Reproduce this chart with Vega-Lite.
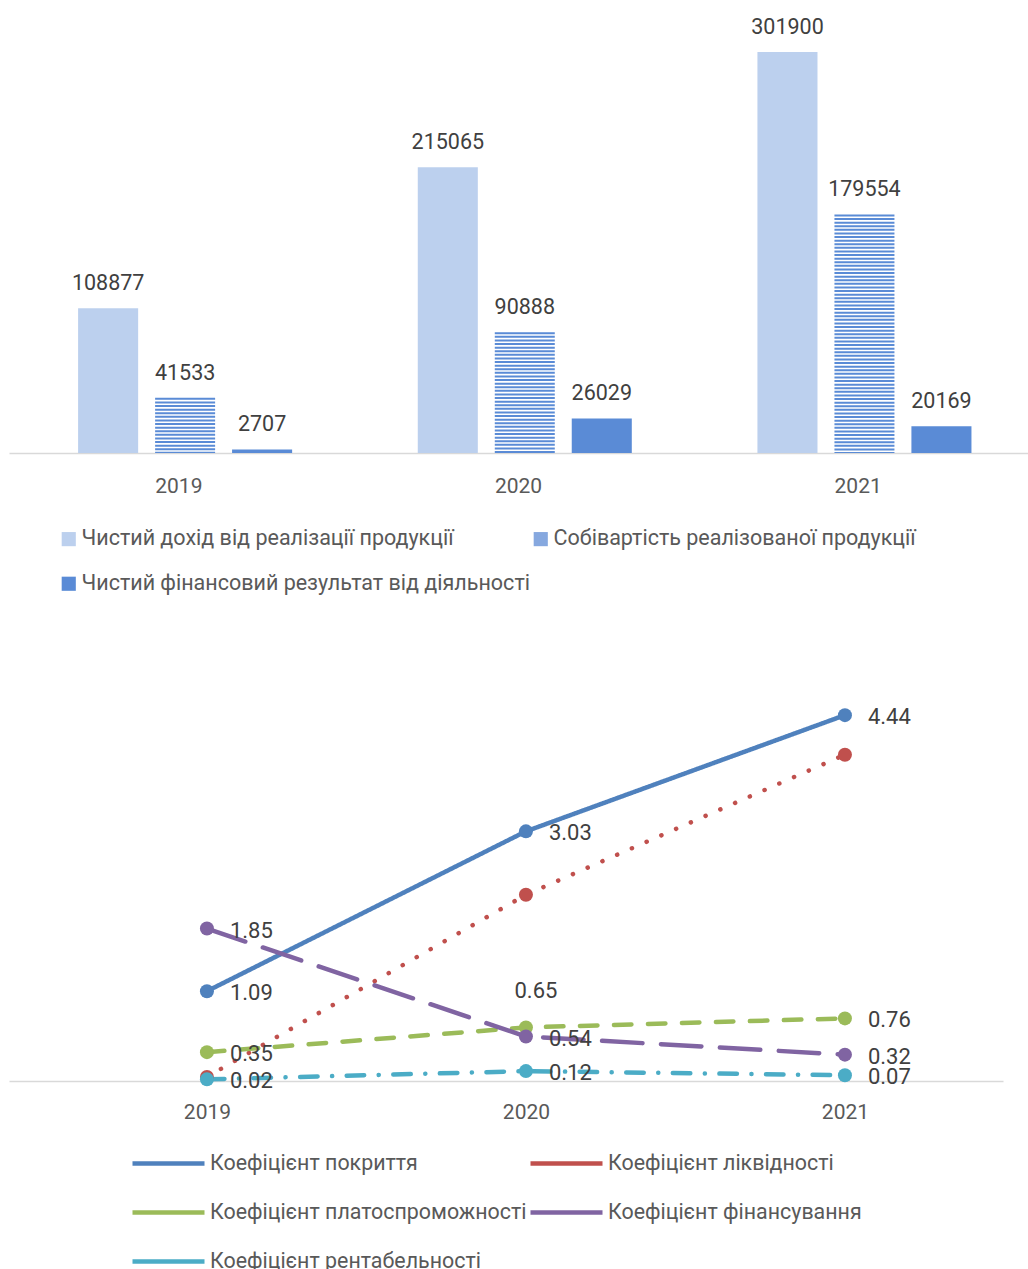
{
  "$schema": "https://vega.github.io/schema/vega-lite/v6.json",
  "padding": {"left": 9, "top": 0, "right": 0, "bottom": 0},
  "background": "white",
  "config": {"view": {"stroke": null}, "font": "Roboto"},
  "spacing": 74,
  "resolve": {"scale": {"color": "independent"}, "legend": {"color": "independent"}},
  "vconcat": [
    {
      "width": 1019,
      "height": 453,
      "data": {"values": [
        {"year": "2019", "series": "Чистий дохід від реалізації продукції", "value": 108877},
        {"year": "2019", "series": "Собівартість реалізованої продукції", "value": 41533},
        {"year": "2019", "series": "Чистий фінансовий результат від діяльності", "value": 2707},
        {"year": "2020", "series": "Чистий дохід від реалізації продукції", "value": 215065},
        {"year": "2020", "series": "Собівартість реалізованої продукції", "value": 90888},
        {"year": "2020", "series": "Чистий фінансовий результат від діяльності", "value": 26029},
        {"year": "2021", "series": "Чистий дохід від реалізації продукції", "value": 301900},
        {"year": "2021", "series": "Собівартість реалізованої продукції", "value": 179554},
        {"year": "2021", "series": "Чистий фінансовий результат від діяльності", "value": 20169}
      ]},
      "encoding": {
        "x": {"field": "year", "type": "nominal", "scale": {"paddingInner": 0, "paddingOuter": 0},
              "axis": {"title": null, "domainColor": "#d9d9d9", "domainWidth": 1.5, "ticks": false, "labelAngle": 0, "labelFontSize": 21, "labelColor": "#595959", "labelPadding": 22}},
        "xOffset": {"field": "series", "type": "nominal", "scale": {"domain": ["Чистий дохід від реалізації продукції", "Собівартість реалізованої продукції", "Чистий фінансовий результат від діяльності"], "paddingInner": 0.22, "paddingOuter": 0.816, "align": 0.55}},
        "y": {"field": "value", "type": "quantitative", "scale": {"domain": [0, 341000], "nice": false}, "axis": null}
      },
      "layer": [
        {
          "transform": [{"filter": "datum.series !== 'Собівартість реалізованої продукції'"}],
          "mark": {"type": "bar"},
          "encoding": {
            "color": {"field": "series", "type": "nominal",
              "scale": {"domain": ["Чистий дохід від реалізації продукції", "Собівартість реалізованої продукції", "Чистий фінансовий результат від діяльності"], "range": ["#bcd0ee", "#86a8df", "#5a8bd6"]},
              "legend": {"orient": "none", "legendX": 49, "legendY": 528, "direction": "horizontal", "columns": 2, "columnPadding": -4, "rowPadding": 22, "title": null,
                "labelFontSize": 21.5, "labelColor": "#595959", "labelLimit": 1000, "labelOffset": 2, "symbolSize": 200, "symbolType": "square"}
            }
          }
        },
        {
          "transform": [{"filter": "datum.series === 'Собівартість реалізованої продукції'"}],
          "mark": {"type": "rule", "strokeWidth": 60, "strokeDash": [2, 1.6], "strokeCap": "butt", "color": "#5a8bd6"},
          "encoding": {
            "y": {"field": "value", "type": "quantitative", "stack": "zero"}
          }
        },
        {
          "mark": {"type": "text", "baseline": "alphabetic", "dy": -18, "fontSize": 21.5, "color": "#404040"},
          "encoding": {
            "text": {"field": "value", "type": "quantitative", "format": "d"}
          }
        }
      ]
    },
    {
      "width": 994,
      "height": 412,
      "data": {"values": [
        {"year": "2019", "series": "Коефіцієнт покриття", "value": 1.09},
        {"year": "2020", "series": "Коефіцієнт покриття", "value": 3.03},
        {"year": "2021", "series": "Коефіцієнт покриття", "value": 4.44},
        {"year": "2019", "series": "Коефіцієнт ліквідності", "value": 0.05},
        {"year": "2020", "series": "Коефіцієнт ліквідності", "value": 2.26},
        {"year": "2021", "series": "Коефіцієнт ліквідності", "value": 3.96},
        {"year": "2019", "series": "Коефіцієнт платоспроможності", "value": 0.35},
        {"year": "2020", "series": "Коефіцієнт платоспроможності", "value": 0.65},
        {"year": "2021", "series": "Коефіцієнт платоспроможності", "value": 0.76},
        {"year": "2019", "series": "Коефіцієнт фінансування", "value": 1.85},
        {"year": "2020", "series": "Коефіцієнт фінансування", "value": 0.54},
        {"year": "2021", "series": "Коефіцієнт фінансування", "value": 0.32},
        {"year": "2019", "series": "Коефіцієнт рентабельності", "value": 0.02},
        {"year": "2020", "series": "Коефіцієнт рентабельності", "value": 0.12},
        {"year": "2021", "series": "Коефіцієнт рентабельності", "value": 0.07}
      ]},
      "encoding": {
        "x": {"field": "year", "type": "ordinal", "scale": {"type": "point", "padding": 0.558, "align": 0.556},
              "axis": {"title": null, "domainColor": "#d9d9d9", "domainWidth": 1.5, "ticks": false, "grid": false, "labelAngle": 0, "labelFontSize": 21, "labelColor": "#595959", "labelPadding": 20}},
        "y": {"field": "value", "type": "quantitative", "scale": {"domain": [0, 5], "nice": false}, "axis": null}
      },
      "layer": [
        {
          "mark": {"type": "line", "strokeWidth": 4.5, "strokeCap": "round"},
          "encoding": {
            "color": {"field": "series", "type": "nominal",
              "scale": {"domain": ["Коефіцієнт покриття", "Коефіцієнт ліквідності", "Коефіцієнт платоспроможності", "Коефіцієнт фінансування", "Коефіцієнт рентабельності"],
                        "range": ["#4f81bd", "#c0504d", "#9bbb59", "#8064a2", "#4bacc6"]},
              "legend": {"orient": "none", "legendX": 121, "legendY": 456, "direction": "horizontal", "columns": 2, "columnPadding": -6, "rowPadding": -30, "title": null,
                "labelFontSize": 21.4, "labelColor": "#595959", "labelLimit": 1000, "labelOffset": 3, "symbolSize": 5184, "symbolStrokeWidth": 4.5, "symbolType": "stroke"}
            },
            "strokeDash": {"field": "series", "type": "nominal",
              "scale": {"domain": ["Коефіцієнт покриття", "Коефіцієнт ліквідності", "Коефіцієнт платоспроможності", "Коефіцієнт фінансування", "Коефіцієнт рентабельності"],
                        "range": [[1, 0], [0.1, 16], [17.5, 16.5], [40.5, 18.5], [17.5, 14.5, 0.1, 14.5]]},
              "legend": null
            }
          }
        },
        {
          "mark": {"type": "point", "filled": true, "size": 196, "opacity": 1},
          "encoding": {
            "color": {"field": "series", "type": "nominal"}
          }
        },
        {
          "transform": [{"filter": "datum.series !== 'Коефіцієнт ліквідності' && !(datum.series === 'Коефіцієнт платоспроможності' && datum.year === '2020')"}],
          "mark": {"type": "text", "align": "left", "baseline": "middle", "dx": 23, "dy": 2, "fontSize": 22, "color": "#404040"},
          "encoding": {"text": {"field": "value", "type": "quantitative", "format": ".2f"}}
        },
        {
          "transform": [{"filter": "datum.series === 'Коефіцієнт платоспроможності' && datum.year === '2020'"}],
          "mark": {"type": "text", "align": "center", "baseline": "middle", "dx": 10, "dy": -36, "fontSize": 22, "color": "#404040"},
          "encoding": {"text": {"field": "value", "type": "quantitative", "format": ".2f"}}
        }
      ]
    }
  ]
}
